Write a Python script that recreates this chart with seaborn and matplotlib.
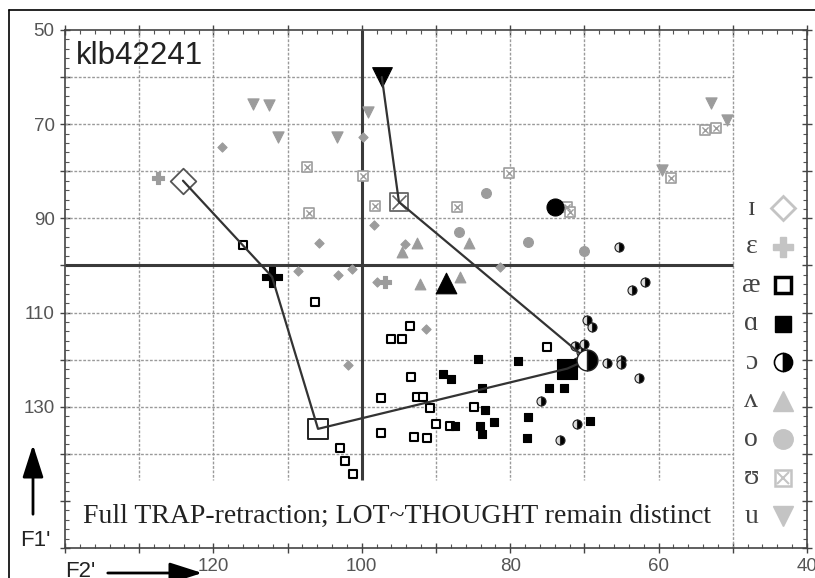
import numpy as np
import pandas as pd
import matplotlib.pyplot as plt
import seaborn as sns
from matplotlib.lines import Line2D

# ---- token data (F2', F1') ----
ih_x = [118.9, 105.8, 108.6, 103.2, 101.3, 98.4, 94.2, 98.0, 91.4, 101.9, 81.4, 99.9]
ih_y = [74.8, 95.2, 101.1, 102.0, 100.7, 91.4, 95.4, 103.5, 113.4, 121.1, 100.3, 72.7]

eh_x = [127.5, 96.9]
eh_y = [81.4, 103.5]

ae_x = [116.0, 106.3, 93.5, 96.0, 94.6, 75.0, 93.4, 97.4, 92.6, 91.8, 90.8, 84.9,
        90.0, 88.1, 97.4, 93.0, 91.2, 103.0, 102.3, 101.2]
ae_y = [95.6, 107.7, 112.8, 115.6, 115.6, 117.3, 123.6, 128.1, 127.9, 127.9, 130.2, 130.0,
        133.6, 134.0, 135.5, 136.4, 136.6, 138.7, 141.5, 144.2]

ah_x = [84.4, 89.0, 88.0, 83.8, 83.4, 84.1, 83.8, 87.5, 82.2, 77.6, 77.8, 74.8, 72.7, 79.0, 69.2]
ah_y = [119.8, 123.0, 124.1, 126.0, 130.8, 134.0, 135.7, 134.0, 133.2, 132.1, 136.6, 126.0, 126.0, 120.2, 133.0]

oh_x = [65.4, 63.6, 61.9, 69.7, 69.0, 71.2, 70.0, 70.5, 71.0, 66.9, 65.1, 65.1, 62.6, 75.8, 71.0, 73.3]
oh_y = [96.0, 105.2, 103.5, 111.5, 113.0, 117.1, 116.6, 118.3, 120.5, 120.7, 120.0, 120.9, 123.8, 128.7, 133.6, 137.0]

uh_x = [92.5, 94.6, 85.6, 92.1, 86.8]
uh_y = [95.2, 97.1, 95.2, 103.9, 102.4]

o_x = [83.3, 86.9, 77.6, 70.1]
o_y = [84.6, 92.9, 95.0, 96.9]

uu_x = [107.4, 107.1, 99.9, 98.2, 87.2, 80.2, 72.3, 72.0, 53.7, 52.3, 58.3]
uu_y = [79.1, 88.8, 81.0, 87.3, 87.6, 80.3, 87.6, 88.6, 71.2, 70.8, 81.4]

u_x = [114.7, 112.5, 111.3, 103.4, 99.1, 52.9, 50.8, 59.5]
u_y = [65.7, 65.9, 72.7, 72.7, 67.4, 65.5, 69.1, 79.7]

# ---- vowel means ----
vowels = ['ɪ', 'ɛ', 'æ', 'ɑ', 'ɔ', 'ʌ', 'o', 'ʊ', 'u']
mean_x = [124.1, 112.1, 105.9, 72.3, 69.6, 88.6, 74.0, 95.0, 97.3]
mean_y = [82.0, 102.4, 134.7, 121.9, 120.0, 103.7, 87.6, 86.5, 60.0]
path_order = ['ɪ', 'ɛ', 'æ', 'ɑ', 'ɔ', 'ʊ', 'u']

xtick_labels = [120, 100, 80, 60, 40]
ytick_labels = [50, 70, 90, 110, 130]

sns.set_style('ticks')
plt.rcParams['font.family'] = ['Liberation Sans', 'DejaVu Sans']

fig = plt.figure(figsize=(8.15, 5.78), dpi=100)
ax = fig.add_axes([65 / 815, 1 - 548 / 578, (807 - 65) / 815, (548 - 30) / 578])
ax.set_xlim(140, 40)
ax.set_ylim(160, 50)

# grid (drawn by hand because it stops short of text box / legend panel)
grid_kw = dict(color='#9a9a9a', lw=1, ls=(0, (2, 1.2)), zorder=1)
ax.vlines([130, 120, 110, 90, 80, 70, 60], 50, 145.5, **grid_kw)
ax.hlines([60, 70, 80, 90, 110, 120, 130, 140], 140, 50, **grid_kw)
ax.vlines([50], 50, 160, **grid_kw)
ax.vlines([100], 50, 145.5, color='#3a3a3a', lw=2.2, zorder=1)
ax.hlines([100], 140, 50, color='#3a3a3a', lw=2.2, zorder=1)

grey = '#9c9c9c'


def tokens(x, y, marker, s, color, edge, lw=0.8):
    sns.scatterplot(x=x, y=y, marker=marker, s=s, color=color, edgecolor=edge,
                    linewidth=lw, ax=ax, zorder=3, legend=False)


tokens(ih_x, ih_y, 'D', 22, grey, grey)
tokens(eh_x, eh_y, 'P', 70, grey, grey)
tokens(ae_x, ae_y, 's', 32, 'white', 'black', 1.5)
tokens(ah_x, ah_y, 's', 36, 'black', 'black')
ax.plot(oh_x, oh_y, ls='none', marker='o', ms=6.5, fillstyle='right',
        markerfacecolor='black', markerfacecoloralt='#dddddd',
        markeredgecolor='#222222', mew=0.8, zorder=3)
tokens(uh_x, uh_y, '^', 60, grey, grey)
tokens(o_x, o_y, 'o', 50, grey, grey)
tokens(uu_x, uu_y, 's', 45, 'white', grey, 1.2)
tokens(uu_x, uu_y, 'x', 20, grey, grey, 1.0)
tokens(u_x, u_y, 'v', 65, grey, grey)

# connecting path through the means
mx = dict(zip(vowels, mean_x))
my = dict(zip(vowels, mean_y))
sns.lineplot(x=[mx[v] for v in path_order], y=[my[v] for v in path_order],
             sort=False, estimator=None, color='#333333', lw=1.6, ax=ax, zorder=4)

tokens([mx['ɪ']], [my['ɪ']], 'D', 170, 'white', '#555555', 1.3)
tokens([mx['ɛ']], [my['ɛ']], 'P', 190, 'black', 'black')
tokens([mx['æ']], [my['æ']], 's', 190, 'white', '#222222', 1.4)
tokens([mx['ɑ']], [my['ɑ']], 's', 200, 'black', 'black')
ax.plot([mx['ɔ']], [my['ɔ']], ls='none', marker='o', ms=15, fillstyle='right',
        markerfacecolor='black', markerfacecoloralt='white',
        markeredgecolor='#222222', mew=1.0, zorder=5)
tokens([mx['ʌ']], [my['ʌ']], '^', 220, 'black', 'black')
tokens([mx['o']], [my['o']], 'o', 150, 'black', 'black')
tokens([mx['ʊ']], [my['ʊ']], 's', 160, 'white', '#666666', 1.3)
tokens([mx['ʊ']], [my['ʊ']], 'x', 100, '#666666', '#666666', 1.2)
tokens([mx['u']], [my['u']], 'v', 200, 'black', 'black')

# legend panel on the right
lg = '#c4c4c4'
leg_style = {
    'ɪ': dict(marker='D', ms=12, mfc='white', mec=lg, mew=2),
    'ɛ': dict(marker='P', ms=14, mfc=lg, mec=lg),
    'æ': dict(marker='s', ms=11, mfc='white', mec='black', mew=2.5),
    'ɑ': dict(marker='s', ms=12, mfc='black', mec='black'),
    'ɔ': dict(marker='o', ms=13, fillstyle='right', mfc='black', markerfacecoloralt='white', mec='black', mew=1.2),
    'ʌ': dict(marker='^', ms=15, mfc=lg, mec=lg),
    'o': dict(marker='o', ms=14, mfc=lg, mec=lg),
    'ʊ': dict(marker='s', ms=12, mfc='white', mec=lg, mew=1.8),
    'u': dict(marker='v', ms=15, mfc=lg, mec=lg),
}
for k, v in enumerate(vowels):
    yy = 87.8 + k * 8.18
    ax.text(47.5, yy, v, ha='center', va='center', fontsize=20, color='#444444',
            family=['Liberation Serif', 'DejaVu Serif'], zorder=6)
    ax.plot([43.3], [yy], ls='none', zorder=6, **leg_style[v])
    if v == 'ʊ':
        ax.plot([43.3], [yy], ls='none', marker='x', ms=8, mec=lg, mew=1.5, zorder=6)

ax.text(138.5, 55.6, 'klb42241', ha='left', va='center', fontsize=22.5, color='#222222', zorder=6)
ax.text(137.6, 153.3, 'Full TRAP-retraction; LOT~THOUGHT remain distinct', ha='left', va='center',
        fontsize=20, color='#222222', family=['Liberation Serif', 'DejaVu Serif'], zorder=6)

# ticks
ax.set_xticks(np.arange(140, 39, -10))
ax.set_xticklabels([str(t) if t in xtick_labels else '' for t in np.arange(140, 39, -10)])
ax.set_yticks(np.arange(50, 161, 10))
ax.set_yticklabels([str(t) if t in ytick_labels else '' for t in np.arange(50, 161, 10)])
ax.set_xticks(np.arange(140, 39, -2), minor=True)
ax.set_yticks(np.arange(50, 161, 2), minor=True)
ax.tick_params(which='major', direction='inout', length=7, width=1, color='#444444',
               labelsize=13.5, labelcolor='#555555', top=True, right=True, pad=4)
ax.tick_params(which='minor', direction='in', length=3, width=0.8, color='#555555',
               top=True, right=True)
for sp in ax.spines.values():
    sp.set_color('#444444')
    sp.set_linewidth(1.2)
ax.set_xlabel('')
ax.set_ylabel('')

# F1' / F2' arrows and labels
fig.text(20 / 815, 1 - 540 / 578, "F1'", fontsize=16, color='#222222', va='center', ha='left')
fig.text(65 / 815, 1 - 561 / 578, "F2'", fontsize=16, color='#222222', va='top', ha='left')
arrow = dict(arrowstyle='-|>,head_length=1.0,head_width=0.32', mutation_scale=20, lw=2, color='black')
ax.annotate('', xy=(33, 578 - 442), xytext=(33, 578 - 517), xycoords='figure pixels',
            textcoords='figure pixels', arrowprops=arrow, annotation_clip=False)
ax.annotate('', xy=(205, 5), xytext=(105, 5), xycoords='figure pixels',
            textcoords='figure pixels', arrowprops=arrow, annotation_clip=False)

# outer frame
fig.add_artist(Line2D([9 / 815, 9 / 815], [0, 1 - 10 / 578], color='black', lw=1.2))
fig.add_artist(Line2D([9 / 815, 1], [1 - 10 / 578, 1 - 10 / 578], color='black', lw=1.2))

fig.savefig('out.png', dpi=100)
